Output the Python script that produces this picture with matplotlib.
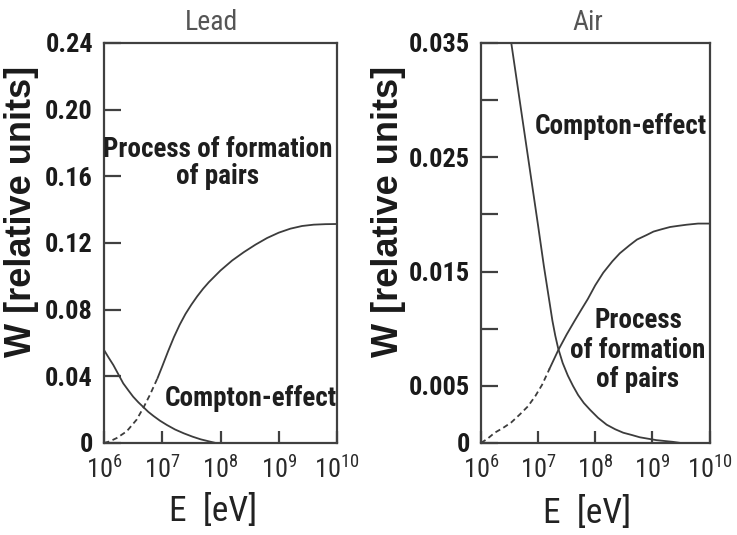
import numpy as np
import matplotlib
matplotlib.use("Agg")
import matplotlib.pyplot as plt
from matplotlib import font_manager
from matplotlib.ticker import FixedLocator, FixedFormatter

# ---------------- data ----------------
# energies given as log10(E [eV])
x_tick_exponents = [6, 7, 8, 9, 10]
x_tick_labels = [r"$\mathregular{10^{6}}$", r"$\mathregular{10^{7}}$", r"$\mathregular{10^{8}}$",
                 r"$\mathregular{10^{9}}$", r"$\mathregular{10^{10}}$"]

lead_y_ticks = [0, 0.04, 0.08, 0.12, 0.16, 0.20, 0.24]
lead_y_labels = ["0", "0.04", "0.08", "0.12", "0.16", "0.20", "0.24"]
air_y_ticks = [0, 0.005, 0.010, 0.015, 0.020, 0.025, 0.030, 0.035]
air_y_labels = ["0", "0.005", "", "0.015", "", "0.025", "", "0.035"]

lead_compton_logE = [6.0, 6.08, 6.16, 6.25, 6.33, 6.42, 6.50, 6.59, 6.68, 6.76, 6.85, 6.96, 7.08,
                     7.22, 7.37, 7.52, 7.66, 7.80, 7.92]
lead_compton_W = [0.0558, 0.0512, 0.0468, 0.0410, 0.0358, 0.0315, 0.0278, 0.0244, 0.0214, 0.0187,
                  0.0162, 0.0134, 0.0108, 0.0081, 0.0058, 0.0038, 0.0022, 0.0010, 0.0]

lead_pair_dash_logE = [6.0, 6.1, 6.22, 6.39, 6.56, 6.68, 6.79, 6.92]
lead_pair_dash_W = [0.0, 0.001, 0.003, 0.007, 0.014, 0.0214, 0.029, 0.039]
lead_pair_logE = [6.92, 7.0, 7.1, 7.2, 7.3, 7.4, 7.5, 7.6, 7.7, 7.8, 7.9, 8.0, 8.2, 8.4, 8.6, 8.8,
                  9.0, 9.2, 9.4, 9.6, 9.8, 10.0]
lead_pair_W = [0.039, 0.046, 0.055, 0.0635, 0.071, 0.0775, 0.083, 0.088, 0.0925, 0.0965, 0.100,
               0.1035, 0.1095, 0.1145, 0.1190, 0.1230, 0.1262, 0.1286, 0.1302, 0.1310, 0.1313, 0.1314]

air_compton_logE = [6.53, 6.7, 6.85, 7.0, 7.1, 7.2, 7.25, 7.3, 7.35, 7.43, 7.52, 7.61, 7.70, 7.80,
                    7.91, 8.05, 8.2, 8.35, 8.49, 8.64, 8.78, 9.07, 9.36, 9.5]
air_compton_W = [0.035, 0.0292, 0.0241, 0.0190, 0.0155, 0.0123, 0.0107, 0.0094, 0.0083, 0.0070,
                 0.0059, 0.0050, 0.0042, 0.0035, 0.0029, 0.0022, 0.0016, 0.0012, 0.0009, 0.0007,
                 0.0005, 0.00025, 0.0001, 0.0]

air_pair_dash_logE = [6.0, 6.12, 6.24, 6.38, 6.53, 6.68, 6.82, 6.95, 7.07, 7.20]
air_pair_dash_W = [0.0, 0.0004, 0.0009, 0.0013, 0.0018, 0.0025, 0.0032, 0.0041, 0.0051, 0.0065]
air_pair_logE = [7.20, 7.35, 7.5, 7.64, 7.76, 7.87, 8.0, 8.14, 8.3, 8.43, 8.6, 8.73, 8.9, 9.02,
                 9.16, 9.31, 9.45, 9.6, 9.8, 10.0]
air_pair_W = [0.0065, 0.0081, 0.0095, 0.0107, 0.0117, 0.0126, 0.0138, 0.0149, 0.0159, 0.0166,
              0.0173, 0.0178, 0.0182, 0.0185, 0.0187, 0.0189, 0.0190, 0.0191, 0.0192, 0.0192]

# ---------------- fonts ----------------
def has_font(name):
    try:
        font_manager.findfont(name, fallback_to_default=False)
        return True
    except Exception:
        return False

def first_font(names):
    for n in names:
        if has_font(n):
            return n
    return "DejaVu Sans"

NARROW = first_font(["Roboto Condensed", "Liberation Sans Narrow", "Liberation Sans"])
WIDE = first_font(["Liberation Sans", "Roboto"])
plt.rcParams["font.family"] = [NARROW, "DejaVu Sans"]
plt.rcParams["mathtext.fontset"] = "custom"
plt.rcParams["mathtext.rm"] = NARROW
plt.rcParams["mathtext.it"] = NARROW + ":italic"
plt.rcParams["mathtext.bf"] = NARROW + ":bold"

LINE = "#3c3c3c"
SPINE = "#404040"

W_PX, H_PX = 737, 535
fig = plt.figure(figsize=(W_PX / 100, H_PX / 100), dpi=100)

def px_axes(l, t, r, b):
    return fig.add_axes([l / W_PX, 1 - b / H_PX, (r - l) / W_PX, (b - t) / H_PX])

ax1 = px_axes(104, 43, 337, 443)
ax2 = px_axes(481, 43, 709.5, 443)

def style(ax, yticks, ylabels, ylim):
    ax.set_xscale("log")
    ax.set_xlim(10.0 ** x_tick_exponents[0], 10.0 ** x_tick_exponents[-1])
    ax.set_ylim(*ylim)
    ax.xaxis.set_major_locator(FixedLocator([10.0 ** e for e in x_tick_exponents]))
    ax.xaxis.set_major_formatter(FixedFormatter(x_tick_labels))
    ax.xaxis.set_minor_locator(FixedLocator([]))
    ax.yaxis.set_major_locator(FixedLocator(yticks))
    ax.yaxis.set_major_formatter(FixedFormatter(ylabels))
    for s in ax.spines.values():
        s.set_linewidth(1.6)
        s.set_color(SPINE)
    ax.tick_params(axis="x", direction="in", length=9, width=1.6, color=SPINE,
                   labelsize=19, pad=9, labelcolor="#2a2a2a")
    ax.tick_params(axis="y", direction="in", length=12.5, width=1.6, color=SPINE,
                   labelsize=19, pad=8, labelcolor="#1a1a1a")
    for lab in ax.get_yticklabels():
        lab.set_fontweight("bold")
    ax.set_xlabel("E  [eV]", fontsize=25.5, color="#222222")
    ax.xaxis.label.set_va("center")
    ax.set_ylabel("W [relative units]", fontsize=26, fontweight="bold",
                  family=[WIDE, "DejaVu Sans"], color="#1a1a1a")
    ax.yaxis.label.set_va("center")

style(ax1, lead_y_ticks, lead_y_labels, (0, 0.24))
style(ax2, air_y_ticks, air_y_labels, (0, 0.035))

def E(logs):
    return 10.0 ** np.asarray(logs)

lw = 1.3
ax1.plot(E(lead_compton_logE), lead_compton_W, color=LINE, lw=lw)
ax1.plot(E(lead_pair_dash_logE), lead_pair_dash_W, color=LINE, lw=lw, ls=(0, (3, 2)))
ax1.plot(E(lead_pair_logE), lead_pair_W, color=LINE, lw=lw)

ax2.plot(E(air_compton_logE), air_compton_W, color=LINE, lw=lw)
ax2.plot(E(air_pair_dash_logE), air_pair_dash_W, color=LINE, lw=lw, ls=(0, (3, 2)))
ax2.plot(E(air_pair_logE), air_pair_W, color=LINE, lw=lw)

# label positions (label centres)
ax1.xaxis.set_label_coords(0.468, -0.17)
ax2.xaxis.set_label_coords(0.464, -0.175)
ax1.yaxis.set_label_coords(-0.352, 0.58)
ax2.yaxis.set_label_coords(-0.407, 0.58)

# titles
ax1.text(0.463, 1.0525, "Lead", transform=ax1.transAxes, ha="center", va="center",
         fontsize=20, color="#555555")
ax2.text(0.468, 1.0525, "Air", transform=ax2.transAxes, ha="center", va="center",
         fontsize=20, color="#555555")

# annotations
ann = dict(fontsize=19.5, fontweight="bold", ha="center", va="center", color="#1e1e1e")
ax1.text(0.489, 0.699, "Process of formation\nof pairs", transform=ax1.transAxes,
         linespacing=1.0, **ann)
ax1.text(0.631, 0.1125, "Compton-effect", transform=ax1.transAxes, **ann)
ax2.text(0.613, 0.79, "Compton-effect", transform=ax2.transAxes, **ann)
ax2.text(0.687, 0.2325, "Process\nof formation\nof pairs", transform=ax2.transAxes,
         linespacing=1.1, **ann)

fig.savefig("out.png", dpi=100)
